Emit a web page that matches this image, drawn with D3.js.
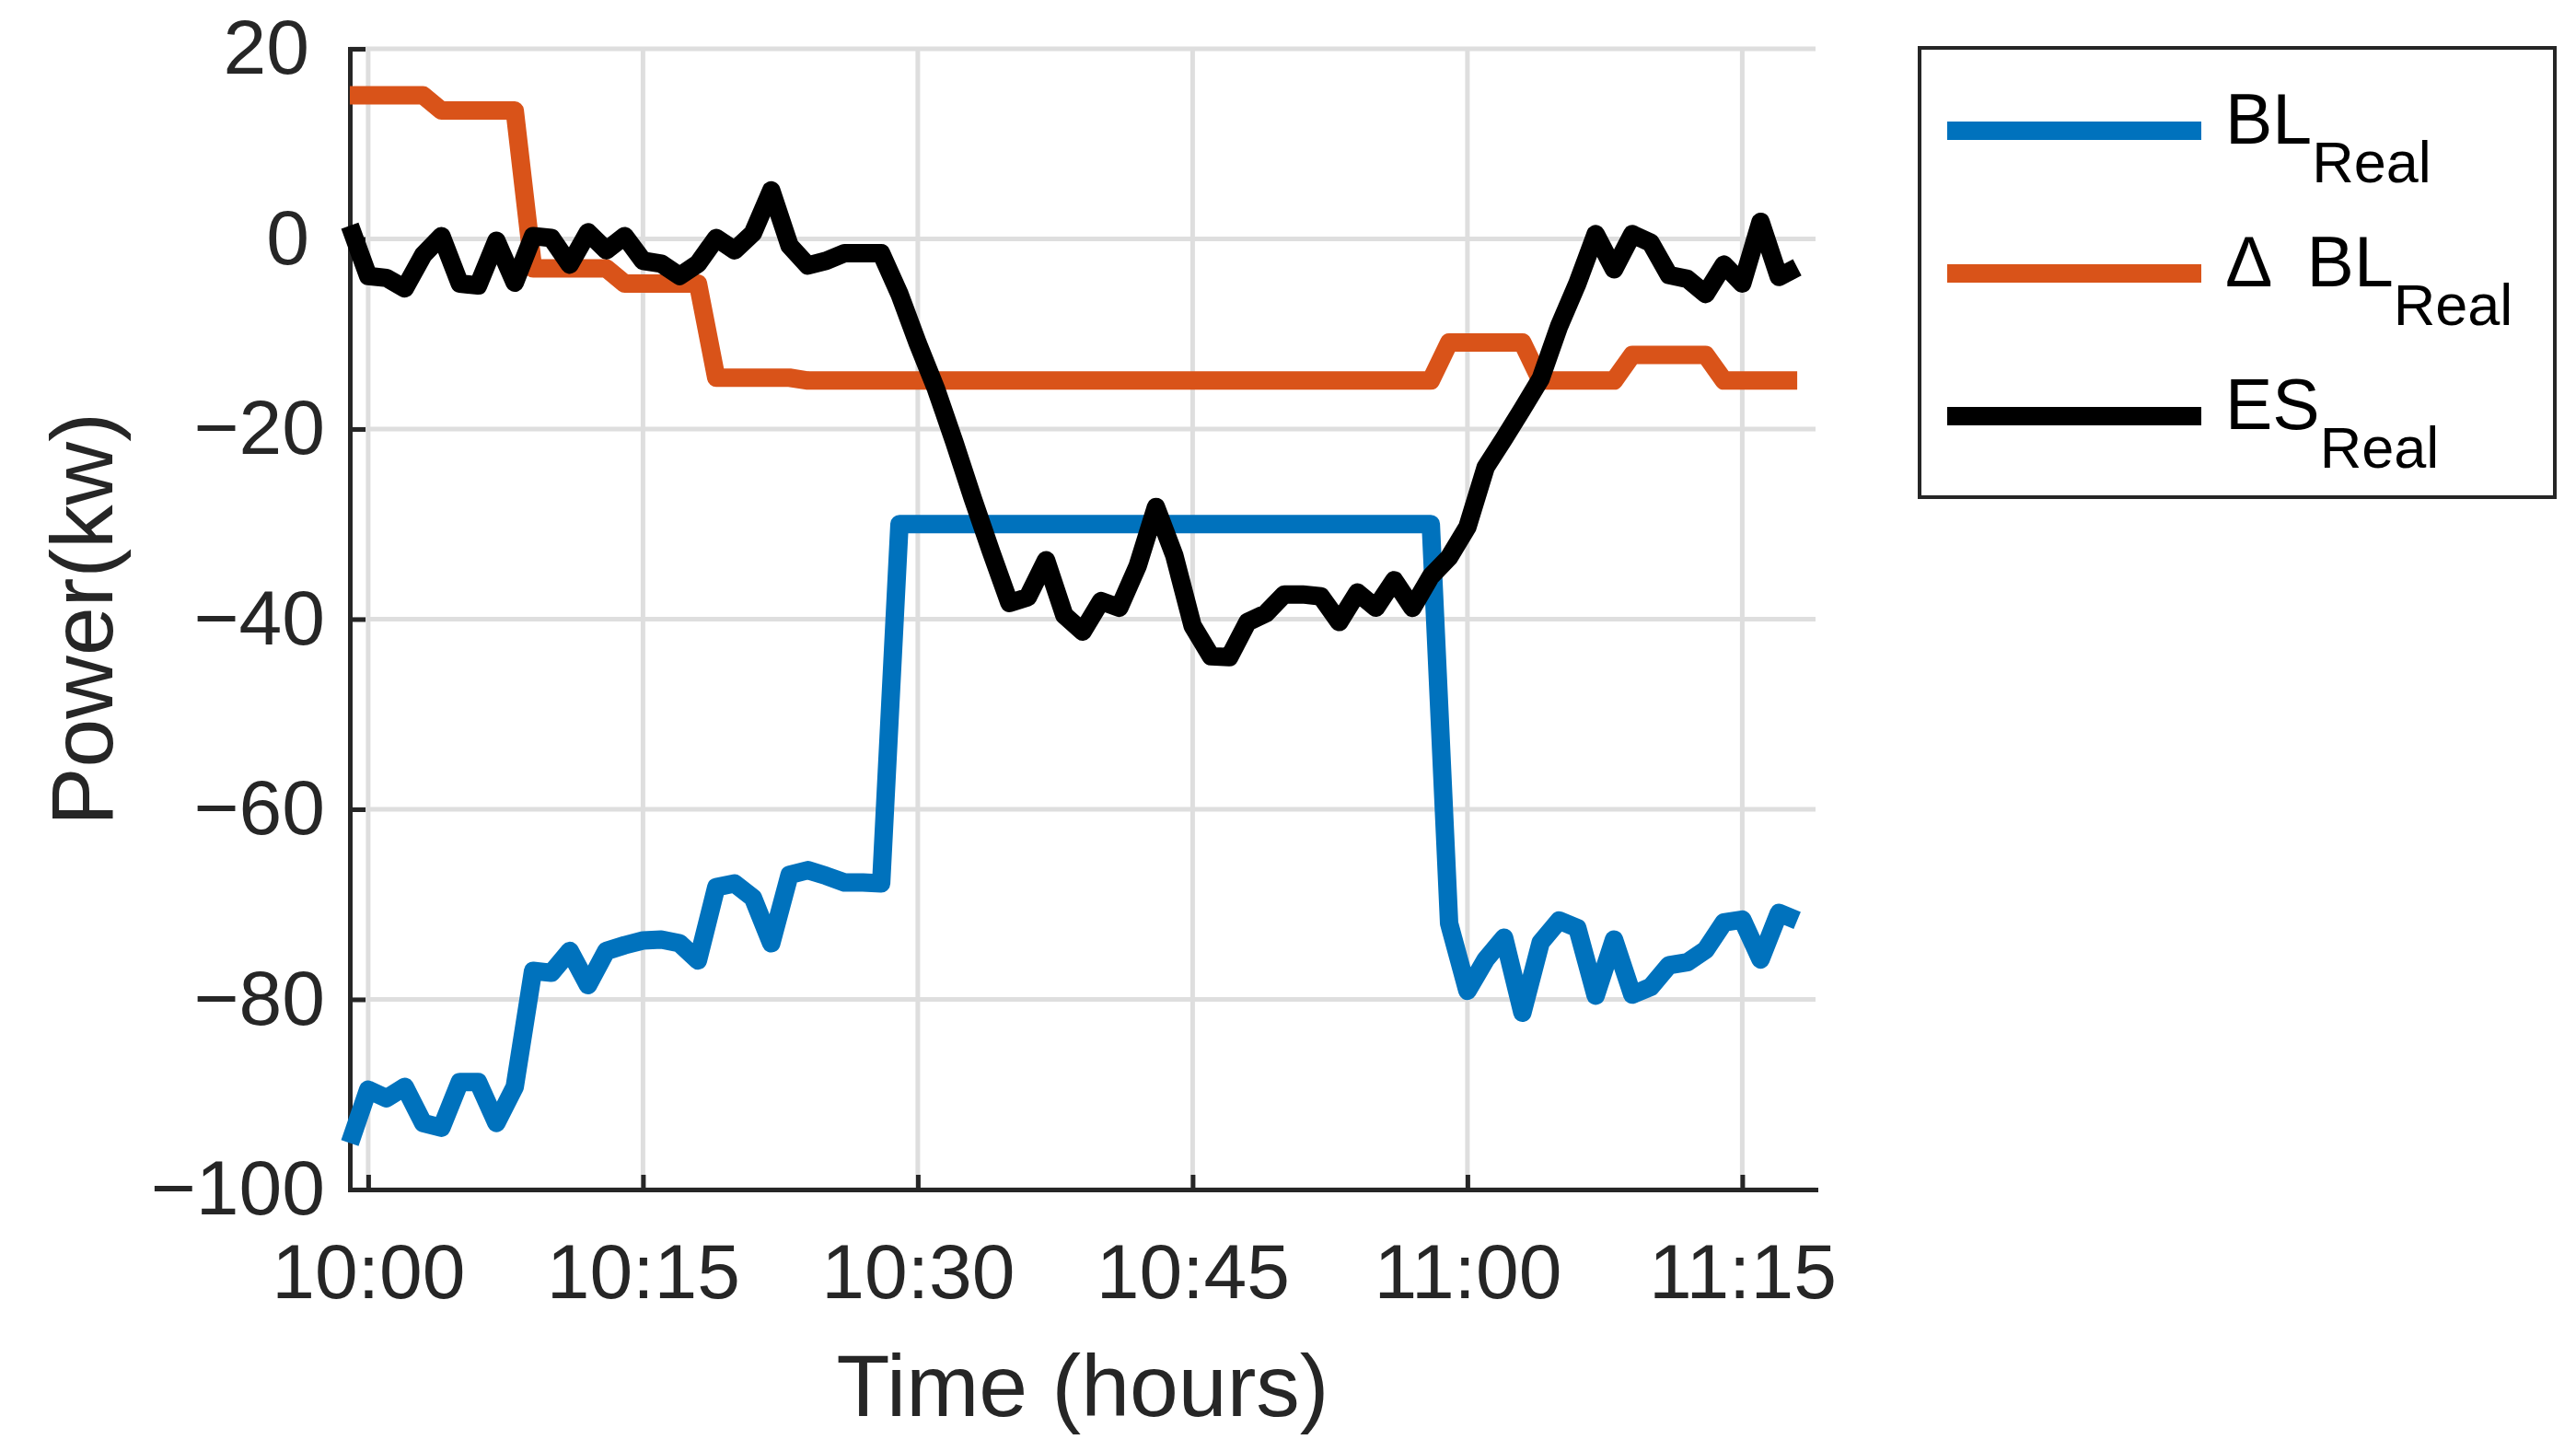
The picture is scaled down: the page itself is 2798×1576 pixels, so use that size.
<!DOCTYPE html>
<html>
<head>
<meta charset="utf-8">
<script src="https://d3js.org/d3.v7.min.js"></script>
<style>
body{margin:0;background:#fff;}
text{font-family:"Liberation Sans",Arial,sans-serif;}
</style>
</head>
<body>
<svg id="powerchart"></svg>
<script>
// one sample per minute, first sample at 09:59
const startTime="09:59";
const xDomain=["09:59","11:19"];
const yDomain=[-100,20];
const xTickLabels=["10:00","10:15","10:30","10:45","11:00","11:15"];
const yTicks=[20,0,-20,-40,-60,-80,-100];

const blReal=[
    -95.1,-89.5,-90.4,-89.2,-93.0,-93.5,-88.7,-88.7,-93.0,-89.2,
    -77.0,-77.2,-74.9,-78.5,-74.9,-74.3,-73.8,-73.7,-74.1,-75.9,
    -68.2,-67.8,-69.3,-74.1,-66.9,-66.4,-67.0,-67.7,-67.7,-67.8,
    -30,-30,-30,-30,-30,-30,-30,-30,-30,-30,
    -30,-30,-30,-30,-30,-30,-30,-30,-30,-30,
    -30,-30,-30,-30,-30,-30,-30,-30,-30,-30,
    -72.0,-79.1,-75.8,-73.5,-81.4,-74.0,-71.7,-72.5,-79.6,-73.7,
    -79.5,-78.7,-76.4,-76.1,-74.8,-71.9,-71.6,-75.8,-70.9,-71.7
];
const dBlReal=[
    15.1,15.1,15.1,15.1,15.1,13.5,13.5,13.5,13.5,13.5,
    -3.1,-3.1,-3.1,-3.1,-3.1,-4.7,-4.7,-4.7,-4.7,-4.7,
    -14.6,-14.6,-14.6,-14.6,-14.6,-14.9,-14.9,-14.9,-14.9,-14.9,
    -14.9,-14.9,-14.9,-14.9,-14.9,-14.9,-14.9,-14.9,-14.9,-14.9,
    -14.9,-14.9,-14.9,-14.9,-14.9,-14.9,-14.9,-14.9,-14.9,-14.9,
    -14.9,-14.9,-14.9,-14.9,-14.9,-14.9,-14.9,-14.9,-14.9,-14.9,
    -10.9,-10.9,-10.9,-10.9,-10.9,-14.9,-14.9,-14.9,-14.9,-14.9,
    -12.2,-12.2,-12.2,-12.2,-12.2,-14.9,-14.9,-14.9,-14.9,-14.9
];
const esReal=[
    1.4,-3.9,-4.1,-5.2,-1.7,0.3,-4.7,-4.9,-0.2,-4.6,
    0.3,0.1,-2.7,0.7,-1.2,0.3,-2.3,-2.6,-3.9,-2.6,
    0.1,-1.2,0.6,5.1,-0.7,-2.8,-2.3,-1.5,-1.5,-1.5,
    -5.8,-11.0,-15.8,-21.4,-27.3,-32.9,-38.3,-37.7,-33.8,-39.6,
    -41.3,-38.1,-38.8,-34.4,-28.2,-33.3,-40.7,-43.9,-44.0,-40.3,
    -39.4,-37.4,-37.4,-37.6,-40.3,-37.2,-38.8,-35.9,-38.8,-35.5,
    -33.5,-30.3,-24.0,-21.0,-17.9,-14.7,-9.2,-4.7,0.5,-3.2,
    0.5,-0.4,-3.8,-4.2,-5.8,-2.7,-4.7,1.8,-4.0,-3.0
];

const seriesNames=["BL","\u0394 BL","ES"];
const seriesSub="Real";
const seriesColors=["#0072BD","#D95319","#000000"];

function powerchart(){
    const width=2798;
    const height=1576;
    // axes box in page pixels
    const left=380, right=1972, top=53, bottom=1292;
    const ink="#262626";

    const svg=d3.select("#powerchart")
                .attr("width",width)
                .attr("height",height)
                .style("background","#fff");

    const parseTime=d3.timeParse("%H:%M");
    const t0=parseTime(startTime);
    const times=blReal.map(function(d,i){return d3.timeMinute.offset(t0,i);});

    const x=d3.scaleTime().domain(xDomain.map(parseTime)).range([left,right]);
    const y=d3.scaleLinear().domain(yDomain).range([bottom,top]);
    const xTicks=xTickLabels.map(parseTime);

    // grid
    const grid=svg.append("g").attr("stroke","#dedede").attr("stroke-width",5);
    grid.selectAll(".vgrid").data(xTicks).enter().append("line")
        .attr("x1",function(d){return x(d);})
        .attr("x2",function(d){return x(d);})
        .attr("y1",top).attr("y2",bottom);
    grid.selectAll(".hgrid").data(yTicks).enter().append("line")
        .attr("x1",left).attr("x2",right)
        .attr("y1",function(d){return y(d);})
        .attr("y2",function(d){return y(d);});

    // axes, ticks pointing inward
    const gx=svg.append("g")
        .attr("transform","translate(0,"+bottom+")")
        .call(d3.axisBottom(x)
            .tickValues(xTicks)
            .tickFormat(d3.timeFormat("%H:%M"))
            .tickSizeInner(-16)
            .tickSizeOuter(0)
            .tickPadding(58));
    const gy=svg.append("g")
        .attr("transform","translate("+left+",0)")
        .call(d3.axisLeft(y)
            .tickValues(yTicks)
            .tickFormat(function(d){return d<0?"\u2212"+Math.abs(d):d;})
            .tickSizeInner(-17)
            .tickSizeOuter(0)
            .tickPadding(44));
    [gx,gy].forEach(function(g){
        g.style("color",ink)
         .attr("font-size",84)
         .attr("font-family","'Liberation Sans',Arial,sans-serif");
        g.select(".domain").attr("stroke-width",5).attr("stroke-linecap","square");
        g.selectAll(".tick line").attr("stroke-width",5);
    });
    // negative labels sit a bit closer to the axis
    gy.selectAll(".tick text").attr("x",function(d){return d<0?-27:-44;});

    // axis titles
    svg.append("text")
        .attr("x",(left+right)/2)
        .attr("y",1538)
        .attr("text-anchor","middle")
        .attr("font-size",95)
        .attr("fill",ink)
        .text("Time (hours)");
    svg.append("text")
        .attr("transform","translate(122,"+(top+bottom)/2+") rotate(-90)")
        .attr("text-anchor","middle")
        .attr("font-size",95)
        .attr("fill",ink)
        .text("Power(kw)");

    // lines
    const series=[blReal,dBlReal,esReal];
    const line=d3.line()
        .x(function(d,i){return x(times[i]);})
        .y(function(d){return y(d);});
    svg.append("g").selectAll("path")
        .data(series)
        .enter().append("path")
        .attr("d",line)
        .attr("fill","none")
        .attr("stroke",function(d,i){return seriesColors[i];})
        .attr("stroke-width",20)
        .attr("stroke-linejoin","round")
        .attr("stroke-linecap","butt");

    // legend
    const legend=svg.append("g");
    legend.append("rect")
        .attr("x",2085).attr("y",52)
        .attr("width",690).attr("height",488)
        .attr("fill","#fff")
        .attr("stroke",ink)
        .attr("stroke-width",4);
    const item=legend.selectAll(".legends")
        .data(seriesNames)
        .enter().append("g")
        .attr("transform",function(d,i){return "translate(0,"+(142+i*155)+")";});
    item.append("line")
        .attr("x1",2115).attr("x2",2391)
        .attr("y1",0).attr("y2",0)
        .attr("stroke",function(d,i){return seriesColors[i];})
        .attr("stroke-width",20);
    const label=item.append("text")
        .attr("x",2417)
        .attr("y",14)
        .attr("fill","#000")
        .attr("font-size",77)
        .style("word-spacing","20px");
    label.append("tspan").text(function(d){return d;});
    label.append("tspan")
        .attr("font-size",63)
        .attr("dy",42)
        .text(seriesSub);
}
powerchart();
</script>
</body>
</html>
